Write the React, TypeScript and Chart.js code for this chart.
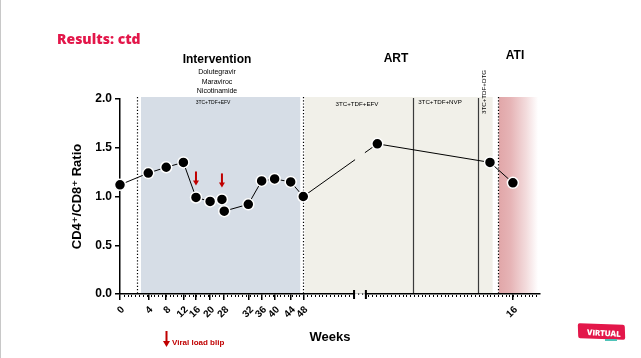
import React, { useEffect, useRef } from "react";
import { Chart, registerables } from "chart.js";

Chart.register(...registerables);

const visitPos = [0, 7.4, 12.1, 16.6, 19.9, 23.6, 26.7, 27.3, 33.6, 37.1, 40.5, 44.7, 48, 67.4, 96.9, 102.9];
const ratio = [1.12, 1.24, 1.3, 1.35, 0.99, 0.95, 0.97, 0.85, 0.92, 1.16, 1.18, 1.15, 1.0, 1.54, 1.35, 1.14];

// x tick positions and their labels (weeks)
const xTickPos = [0, 7.4, 12.1, 16.6, 19.9, 23.6, 27.3, 33.8, 37.2, 40.6, 44.7, 48, 102.9];
const xTickLabels = ["0", "4", "8", "12", "16", "20", "28", "32", "36", "40", "44", "48", "16"];
const yTicks = [0, 0.5, 1.0, 1.5, 2.0];

// visits with a viral load blip (indices into visitPos)
const blipVisits = [4, 6];

// phase bands / markers (x axis units)
const interventionBand = [5.5, 47.2];
const artBand = [48.4, 97.6];
const atiBand = [99.2, 109.5];
const phaseDividers = [4.45, 48, 98.9];
const regimenSwitches = [76.7, 93.7];
const axisBreak = [61.3, 64.4];

const FONT = "'Liberation Sans', Arial, 'DejaVu Sans', sans-serif";
const ART_BG = "#f1f0e9";

const bandsPlugin = {
  id: "bands",
  beforeDraw(chart: any) {
    const { ctx, chartArea: a, scales } = chart;
    const x = scales.x;
    const px = (v: number) => x.getPixelForValue(v);
    const top = a.top - 2;
    const bot = a.bottom - 0.75;
    ctx.save();
    ctx.fillStyle = "#d6dde6";
    ctx.fillRect(px(interventionBand[0]), top, px(interventionBand[1]) - px(interventionBand[0]), bot - top);
    ctx.fillStyle = ART_BG;
    ctx.fillRect(px(artBand[0]), top, px(artBand[1]) - px(artBand[0]), bot - top);
    const g = ctx.createLinearGradient(px(atiBand[0]), 0, px(atiBand[1]), 0);
    g.addColorStop(0, "#e1a6a8");
    g.addColorStop(0.3, "#e6b4b6");
    g.addColorStop(0.7, "#f3dcdd");
    g.addColorStop(1, "#ffffff");
    ctx.fillStyle = g;
    ctx.fillRect(px(atiBand[0]), top, px(atiBand[1]) - px(atiBand[0]), bot - top);

    // regimen switch lines
    ctx.strokeStyle = "#3a3a3a";
    ctx.lineWidth = 1.2;
    regimenSwitches.forEach((v) => {
      const xx = Math.round(px(v)) + 0.5;
      ctx.beginPath();
      ctx.moveTo(xx, top + 1);
      ctx.lineTo(xx, bot);
      ctx.stroke();
    });

    // dotted phase dividers
    ctx.strokeStyle = "#000";
    ctx.lineWidth = 1.2;
    ctx.setLineDash([1.2, 2]);
    phaseDividers.forEach((v) => {
      const xx = Math.round(px(v)) + 0.5;
      ctx.beginPath();
      ctx.moveTo(xx, top);
      ctx.lineTo(xx, bot);
      ctx.stroke();
    });
    ctx.setLineDash([]);
    ctx.restore();
  },
  afterDatasetsDraw(chart: any) {
    const { ctx, chartArea: a, scales } = chart;
    const x = scales.x;
    const x0 = x.getPixelForValue(axisBreak[0]);
    const x1 = x.getPixelForValue(axisBreak[1]);
    ctx.save();
    // gap in the connecting line at the axis break
    ctx.fillStyle = ART_BG;
    ctx.fillRect(x0 + 1, a.top, x1 - x0 - 2, a.bottom - a.top - 2);

    // viral load blip arrows
    const meta = chart.getDatasetMeta(0);
    ctx.fillStyle = "#c00000";
    blipVisits.forEach((i) => {
      const el = meta.data[i];
      const tipY = el.y - 12;
      const cx = el.x;
      ctx.fillRect(cx - 1, tipY - 14, 2, 10);
      ctx.beginPath();
      ctx.moveTo(cx - 3, tipY - 5);
      ctx.lineTo(cx + 3, tipY - 5);
      ctx.lineTo(cx, tipY);
      ctx.closePath();
      ctx.fill();
    });
    ctx.restore();
  },
  afterDraw(chart: any) {
    const { ctx, chartArea: a, scales } = chart;
    const x = scales.x;
    const y0 = a.bottom;
    const b0 = x.getPixelForValue(axisBreak[0]);
    const b1 = x.getPixelForValue(axisBreak[1]);
    ctx.save();
    // minor ticks
    ctx.fillStyle = "#000";
    for (let u = 1; u < x.max; u += 1) {
      const xx = x.getPixelForValue(u);
      if (xx > b0 - 1 && xx < b1 + 1) continue;
      ctx.fillRect(Math.round(xx), y0 + 1, 1, 2);
    }
    // axis break
    ctx.fillStyle = "#fff";
    ctx.fillRect(b0 + 1, y0 - 0.8, b1 - b0 - 2, 4);
    ctx.fillStyle = "#000";
    ctx.fillRect(b0 - 1, y0 - 4, 2, 9);
    ctx.fillRect(b1 - 1, y0 - 4, 2, 9);
    const third = (b1 - b0) / 3;
    ctx.fillRect(Math.round(b0 + third), y0 - 0.5, 1.2, 1.2);
    ctx.fillRect(Math.round(b0 + 2 * third), y0 - 0.5, 1.2, 1.2);
    ctx.restore();
  },
};

function ChartView() {
  const ref = useRef<HTMLCanvasElement | null>(null);
  useEffect(() => {
    if (!ref.current) return;
    const chart = new Chart(ref.current, {
      type: "line",
      data: {
        datasets: [
          {
            data: visitPos.map((v, i) => ({ x: v, y: ratio[i] })),
            borderColor: "#000",
            borderWidth: 1,
            pointRadius: 5.5,
            pointBackgroundColor: "#000",
            pointBorderColor: "#fff",
            pointBorderWidth: 1.5,
            tension: 0,
            clip: false as any,
          },
        ],
      },
      options: {
        animation: false,
        responsive: false,
        events: [],
        layout: { padding: { left: 70, right: 101, top: 99, bottom: 10 } },
        plugins: { legend: { display: false }, tooltip: { enabled: false }, title: { display: false } },
        scales: {
          x: {
            type: "linear",
            min: 0,
            max: 110,
            afterBuildTicks: (s: any) => {
              s.ticks = xTickPos.map((v) => ({ value: v }));
            },
            afterFit: (s: any) => {
              s.height = 54;
            },
            ticks: {
              autoSkip: false,
              minRotation: 45,
              maxRotation: 45,
              padding: 4,
              labelOffset: 3,
              color: "#000",
              font: { family: FONT, size: 10, weight: "bold" },
              callback: (_v: any, i: number) => xTickLabels[i],
            },
            grid: { display: true, drawOnChartArea: false, drawTicks: true, tickLength: 6, color: "#000", lineWidth: 1.5 },
            border: { display: true, color: "#000", width: 1.5 },
            title: {
              display: true,
              text: "Weeks",
              color: "#000",
              font: { family: FONT, size: 13, weight: "bold" },
              padding: { top: 4, bottom: 3 },
            },
          },
          y: {
            type: "linear",
            min: 0,
            max: 2,
            afterBuildTicks: (s: any) => {
              s.ticks = yTicks.map((v) => ({ value: v }));
            },
            afterFit: (s: any) => {
              s.width = 50;
            },
            ticks: {
              padding: 3,
              color: "#000",
              font: { family: FONT, size: 12, weight: "bold" },
              callback: (v: any) => Number(v).toFixed(1),
            },
            grid: { display: true, drawOnChartArea: false, drawTicks: true, tickLength: 5, color: "#000", lineWidth: 1.5 },
            border: { display: true, color: "#000", width: 1.5 },
            title: {
              display: true,
              text: "CD4\u207A/CD8\u207A Ratio",
              color: "#000",
              font: { family: FONT, size: 13, weight: "bold" },
              padding: { top: 0, bottom: 0 },
            },
          },
        },
      },
      plugins: [bandsPlugin],
    } as any);
    return () => chart.destroy();
  }, []);
  return <canvas ref={ref} width={641} height={358} style={{ display: "block", width: 641, height: 358 }} />;
}

const label = (text: string, cx: number, cy: number, style: React.CSSProperties = {}) => (
  <div
    style={{
      position: "absolute",
      left: cx,
      top: cy,
      transform: "translate(-50%, -50%)",
      whiteSpace: "nowrap",
      lineHeight: 1,
      fontFamily: FONT,
      color: "#000",
      ...style,
    }}
  >
    {text}
  </div>
);

export default function App() {
  return (
    <div style={{ position: "fixed", left: 0, top: 0, width: 641, height: 358, background: "#fff", overflow: "hidden" }}>
      <ChartView />
      <div style={{ position: "absolute", left: 0, top: 0, width: 1, height: 358, background: "#c8c8c8" }} />
      <div
        style={{
          position: "absolute",
          left: 57,
          top: 31,
          fontFamily: "'Open Sans', sans-serif",
          fontWeight: 800,
          fontSize: 14,
          lineHeight: "16px",
          color: "#e3174a",
          whiteSpace: "nowrap",
        }}
      >
        Results: ctd
      </div>
      {label("Intervention", 217, 59, { fontSize: 12, fontWeight: 700 })}
      {label("Dolutegravir", 217, 71, { fontSize: 7 })}
      {label("Maraviroc", 217, 80.5, { fontSize: 7 })}
      {label("Nicotinamide", 217, 90, { fontSize: 7 })}
      {label("ART", 396, 58, { fontSize: 12, fontWeight: 700 })}
      {label("ATI", 515, 55, { fontSize: 12, fontWeight: 700 })}
      {label("3TC+TDF+EFV", 213, 102, { fontSize: 5 })}
      {label("3TC+TDF+EFV", 357, 104, { fontSize: 6.2 })}
      {label("3TC+TDF+NVP", 440, 102, { fontSize: 6.2 })}
      {label("3TC+TDF+DTG", 483.5, 92, { fontSize: 6.2, transform: "translate(-50%, -50%) rotate(-90deg)" })}
      <svg style={{ position: "absolute", left: 163, top: 331 }} width={7} height={17}>
        <rect x={2.5} y={0} width={2} height={11} fill="#c00000" />
        <polygon points="0,10 7,10 3.5,16" fill="#c00000" />
      </svg>
      <div
        style={{
          position: "absolute",
          left: 172,
          top: 338,
          fontFamily: FONT,
          fontWeight: 700,
          fontSize: 8,
          lineHeight: "9px",
          color: "#c00000",
          whiteSpace: "nowrap",
        }}
      >
        Viral load blip
      </div>
      <div
        style={{
          position: "absolute",
          left: 578,
          top: 324,
          width: 47,
          height: 15,
          background: "#e3174a",
          transform: "skewY(4deg) rotate(-2deg)",
          borderRadius: 2,
        }}
      />
      <div style={{ position: "absolute", left: 605, top: 339, width: 12, height: 2, background: "#4fc3b8" }} />
      <div
        style={{
          position: "absolute",
          left: 587,
          top: 328,
          fontFamily: "'Open Sans', sans-serif",
          fontWeight: 800,
          fontSize: 8,
          lineHeight: "9px",
          color: "#fff",
          whiteSpace: "nowrap",
          transform: "rotate(3deg)",
          letterSpacing: -0.2,
        }}
      >
        VIRTUAL
      </div>
    </div>
  );
}
